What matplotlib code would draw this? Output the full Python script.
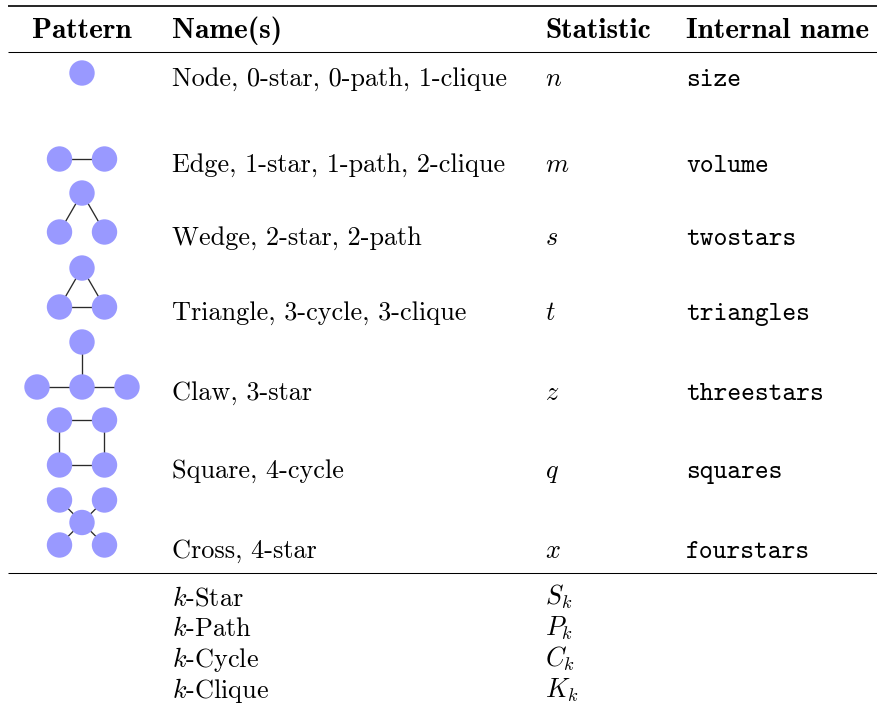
import matplotlib
matplotlib.use("Agg")
import matplotlib.pyplot as plt

plt.rcParams["mathtext.fontset"] = "cm"
plt.rcParams["font.family"] = "cmr10"
plt.rcParams["axes.formatter.use_mathtext"] = True

# table content
headers = ["Pattern", "Name(s)", "Statistic", "Internal name"]
names = [
    "Node, 0-star, 0-path, 1-clique",
    "Edge, 1-star, 1-path, 2-clique",
    "Wedge, 2-star, 2-path",
    "Triangle, 3-cycle, 3-clique",
    "Claw, 3-star",
    "Square, 4-cycle",
    "Cross, 4-star",
]
statistics = ["$n$", "$m$", "$s$", "$t$", "$z$", "$q$", "$x$"]
internal_names = ["size", "volume", "twostars", "triangles",
                  "threestars", "squares", "fourstars"]
k_names = ["$k$-Star", "$k$-Path", "$k$-Cycle", "$k$-Clique"]
k_statistics = ["$S_k$", "$P_k$", "$C_k$", "$K_k$"]

# pattern graphs: node coords in edge-length units (y up, bottom row at 0)
h = 0.866
patterns = [
    ([(0, 0)], []),
    ([(-0.5, 0), (0.5, 0)], [(0, 1)]),
    ([(0, h), (-0.5, 0), (0.5, 0)], [(0, 1), (0, 2)]),
    ([(0, h), (-0.5, 0), (0.5, 0)], [(0, 1), (0, 2), (1, 2)]),
    ([(0, 1), (-1, 0), (0, 0), (1, 0)], [(2, 0), (2, 1), (2, 3)]),
    ([(-0.5, 1), (0.5, 1), (-0.5, 0), (0.5, 0)],
     [(0, 1), (2, 3), (0, 2), (1, 3)]),
    ([(-0.5, 1), (0.5, 1), (0, 0.5), (-0.5, 0), (0.5, 0)],
     [(2, 0), (2, 1), (2, 3), (2, 4)]),
]

# layout (pixels)
W, H = 878, 710
row_base = [86, 172, 245, 320, 400, 478, 558]
k_base = [605, 636, 667, 698]
header_base = 38
col_x = [82, 172, 545, 686]
unit = 45
node_r = 12.7
fs = 18.9
fs_head = 21.2

fig = plt.figure(figsize=(W / 100, H / 100), dpi=100)
ax = fig.add_axes([0, 0, 1, 1])
ax.set_xlim(0, W)
ax.set_ylim(H, 0)
ax.axis("off")

# rules
ax.hlines(6, 8, W, color="black", lw=1.2)
ax.hlines(52, 8, W, color="black", lw=0.75)
ax.hlines(573, 8, W, color="black", lw=0.75)

# header
ax.text(col_x[0], header_base, headers[0], family="cmb10", fontsize=fs_head,
        ha="center", va="baseline")
for x, lab in zip(col_x[1:], headers[1:]):
    ax.text(x, header_base, lab, family="cmb10", fontsize=fs_head,
            ha="left", va="baseline")

# main rows
pt_r = node_r * 72 / 100
for i, (yb, name, stat, iname) in enumerate(
        zip(row_base, names, statistics, internal_names)):
    ax.text(col_x[1], yb, name, fontsize=fs, va="baseline")
    ax.text(col_x[2], yb, stat, fontsize=fs, va="baseline")
    ax.text(col_x[3], yb, iname, family="cmtt10", fontsize=fs, va="baseline")

    nodes, edges = patterns[i]
    y0 = yb - 13
    xs = [col_x[0] + nx * unit for nx, ny in nodes]
    ys = [y0 - ny * unit for nx, ny in nodes]
    for a, b in edges:
        ax.plot([xs[a], xs[b]], [ys[a], ys[b]], color="#2a2a2a",
                lw=0.95, zorder=1, solid_capstyle="butt")
    ax.scatter(xs, ys, s=(2 * pt_r) ** 2, color="#9999ff",
               edgecolors="none", zorder=2)

# k rows
for yb, name, stat in zip(k_base, k_names, k_statistics):
    ax.text(col_x[1], yb, name, fontsize=fs, va="baseline")
    ax.text(col_x[2], yb, stat, fontsize=fs, va="baseline")

fig.savefig("out.png", dpi=100)
